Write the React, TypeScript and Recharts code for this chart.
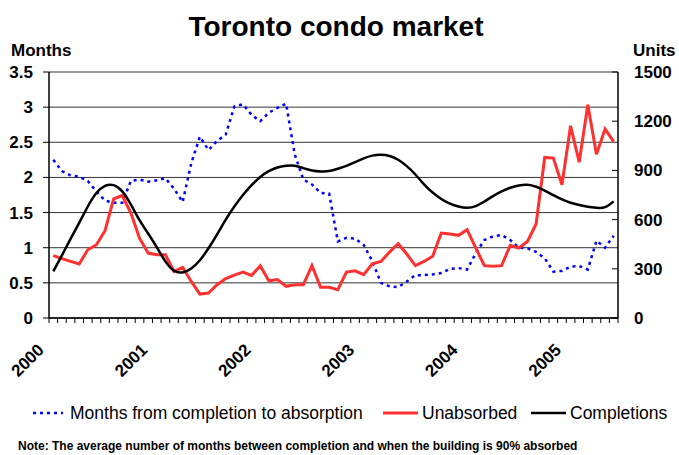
import { ComposedChart, Line, XAxis, YAxis, CartesianGrid } from 'recharts'

// monthly, Jan 2000 .. Jun 2005
const years = ['2000', '2001', '2002', '2003', '2004', '2005']

const monthsToAbsorb = [
  2.25, 2.09, 2.03, 2.01, 1.95, 1.8, 1.67, 1.64, 1.64, 1.95,
  1.97, 1.94, 1.96, 1.99, 1.84, 1.65, 2.2, 2.58, 2.39, 2.52,
  2.61, 3.01, 3.04, 2.89, 2.8, 2.92, 2.99, 3.05, 2.33, 1.97,
  1.9, 1.78, 1.77, 1.09, 1.14, 1.13, 1.04, 0.81, 0.5, 0.45,
  0.44, 0.52, 0.61, 0.61, 0.62, 0.64, 0.7, 0.71, 0.69, 0.92,
  1.11, 1.16, 1.18, 1.11, 1.0, 0.99, 0.94, 0.85, 0.66, 0.67,
  0.73, 0.74, 0.69, 1.1, 1.0, 1.17,
]

const unabsorbed = [
  380, 362, 345, 329, 416, 447, 532, 727, 747, 640,
  487, 396, 386, 386, 284, 309, 223, 146, 152, 203,
  240, 262, 280, 260, 319, 227, 234, 193, 203, 203,
  319, 187, 187, 173, 280, 288, 264, 331, 345, 402,
  453, 390, 319, 345, 376, 518, 512, 504, 538, 427,
  319, 315, 319, 443, 427, 467, 573, 979, 975, 812,
  1172, 950, 1300, 999, 1152, 1076,
]

const completions = [
  284, 382, 482, 580, 680, 762, 806, 810, 772, 692,
  597, 515, 432, 345, 288, 278, 302, 352, 425, 510,
  600, 680, 750, 810, 860, 895, 918, 928, 928, 914,
  900, 894, 896, 910, 928, 950, 973, 990, 995, 988,
  965, 926, 875, 815, 765, 726, 698, 680, 672, 682,
  710, 743, 772, 794, 808, 812, 800, 777, 749, 723,
  703, 689, 678, 672, 676, 711,
]

const leftTicks = [0, 0.5, 1, 1.5, 2, 2.5, 3, 3.5]
const rightTicks = [0, 300, 600, 900, 1200, 1500]

const data = completions.map((c, i) => ({
  x: i + 0.5,
  months: monthsToAbsorb[i],
  unabsorbed: unabsorbed[i],
  completions: c,
}))
const xTicks = Array.from({ length: completions.length + 1 }, (_, i) => i)

const FONT = "'Liberation Sans', Arial, sans-serif"

function YearTick({ x, y, payload }: any) {
  const v = payload.value
  if (v % 12 !== 0) return null
  const ax = x - 4
  const ay = y + 26
  return (
    <text x={ax} y={ay} transform={`rotate(-45 ${ax} ${ay})`} textAnchor="end"
      fontFamily={FONT} fontWeight="bold" fontSize={17} fill="#000">
      {years[v / 12]}
    </text>
  )
}

export default function App() {
  return (
    <div style={{ position: 'relative', width: 679, height: 455, background: '#fff' }}>
      <style>{'body{margin:0}'}</style>
      <ComposedChart width={679} height={455} data={data}
        margin={{ top: 72, right: 0, left: 0, bottom: 57 }}>
        <CartesianGrid yAxisId="left" vertical={false} stroke="#333" strokeWidth={1} />
        <XAxis dataKey="x" type="number" domain={[0, 66]} ticks={xTicks} interval={0}
          height={80} tick={<YearTick />} tickSize={5}
          axisLine={{ stroke: '#000', strokeWidth: 1.5 }} tickLine={{ stroke: '#000' }} />
        <YAxis yAxisId="left" domain={[0, 3.5]} ticks={leftTicks} width={49}
          tickSize={6} tickMargin={10}
          tick={{ fill: '#000', fontSize: 17, fontWeight: 'bold', fontFamily: FONT }}
          axisLine={{ stroke: '#000', strokeWidth: 1.5 }} tickLine={{ stroke: '#000' }} />
        <YAxis yAxisId="right" orientation="right" domain={[0, 1500]} ticks={rightTicks} width={61}
          tickSize={-6} tickMargin={22}
          tick={{ fill: '#000', fontSize: 17, fontWeight: 'bold', fontFamily: FONT, textAnchor: 'start' }}
          axisLine={{ stroke: '#000', strokeWidth: 1.5 }} tickLine={{ stroke: '#000' }} />
        <Line yAxisId="left" dataKey="months" type="linear" stroke="#0000ff" strokeWidth={2.5}
          strokeDasharray="3 4" dot={false} isAnimationActive={false} />
        <Line yAxisId="right" dataKey="unabsorbed" type="linear" stroke="#ff3030" strokeWidth={3}
          dot={false} isAnimationActive={false} />
        <Line yAxisId="right" dataKey="completions" type="natural" stroke="#000" strokeWidth={2.5}
          dot={false} isAnimationActive={false} />
      </ComposedChart>

      <svg width={679} height={455} style={{ position: 'absolute', left: 0, top: 0, pointerEvents: 'none' }}>
        <text x={336} y={36} textAnchor="middle" fontFamily={FONT} fontWeight="bold" fontSize={28}>
          Toronto condo market
        </text>
        <text x={11} y={56} fontFamily={FONT} fontWeight="bold" fontSize={17}>Months</text>
        <text x={633} y={56} fontFamily={FONT} fontWeight="bold" fontSize={17}>Units</text>

        <line x1={33} y1={413} x2={63} y2={413} stroke="#0000ff" strokeWidth={2.5} strokeDasharray="3 4" />
        <text x={70} y={419} fontFamily={FONT} fontSize={17.5}>Months from completion to absorption</text>
        <line x1={383} y1={413} x2={418} y2={413} stroke="#ff3030" strokeWidth={3} />
        <text x={422} y={419} fontFamily={FONT} fontSize={17.5}>Unabsorbed</text>
        <line x1={531} y1={413} x2={566} y2={413} stroke="#000" strokeWidth={2.5} />
        <text x={570} y={419} fontFamily={FONT} fontSize={17.5}>Completions</text>

        <text x={18} y={450} fontFamily={FONT} fontWeight="bold" fontSize={12}>
          Note: The average number of months between completion and when the building is 90% absorbed
        </text>
      </svg>
    </div>
  )
}
